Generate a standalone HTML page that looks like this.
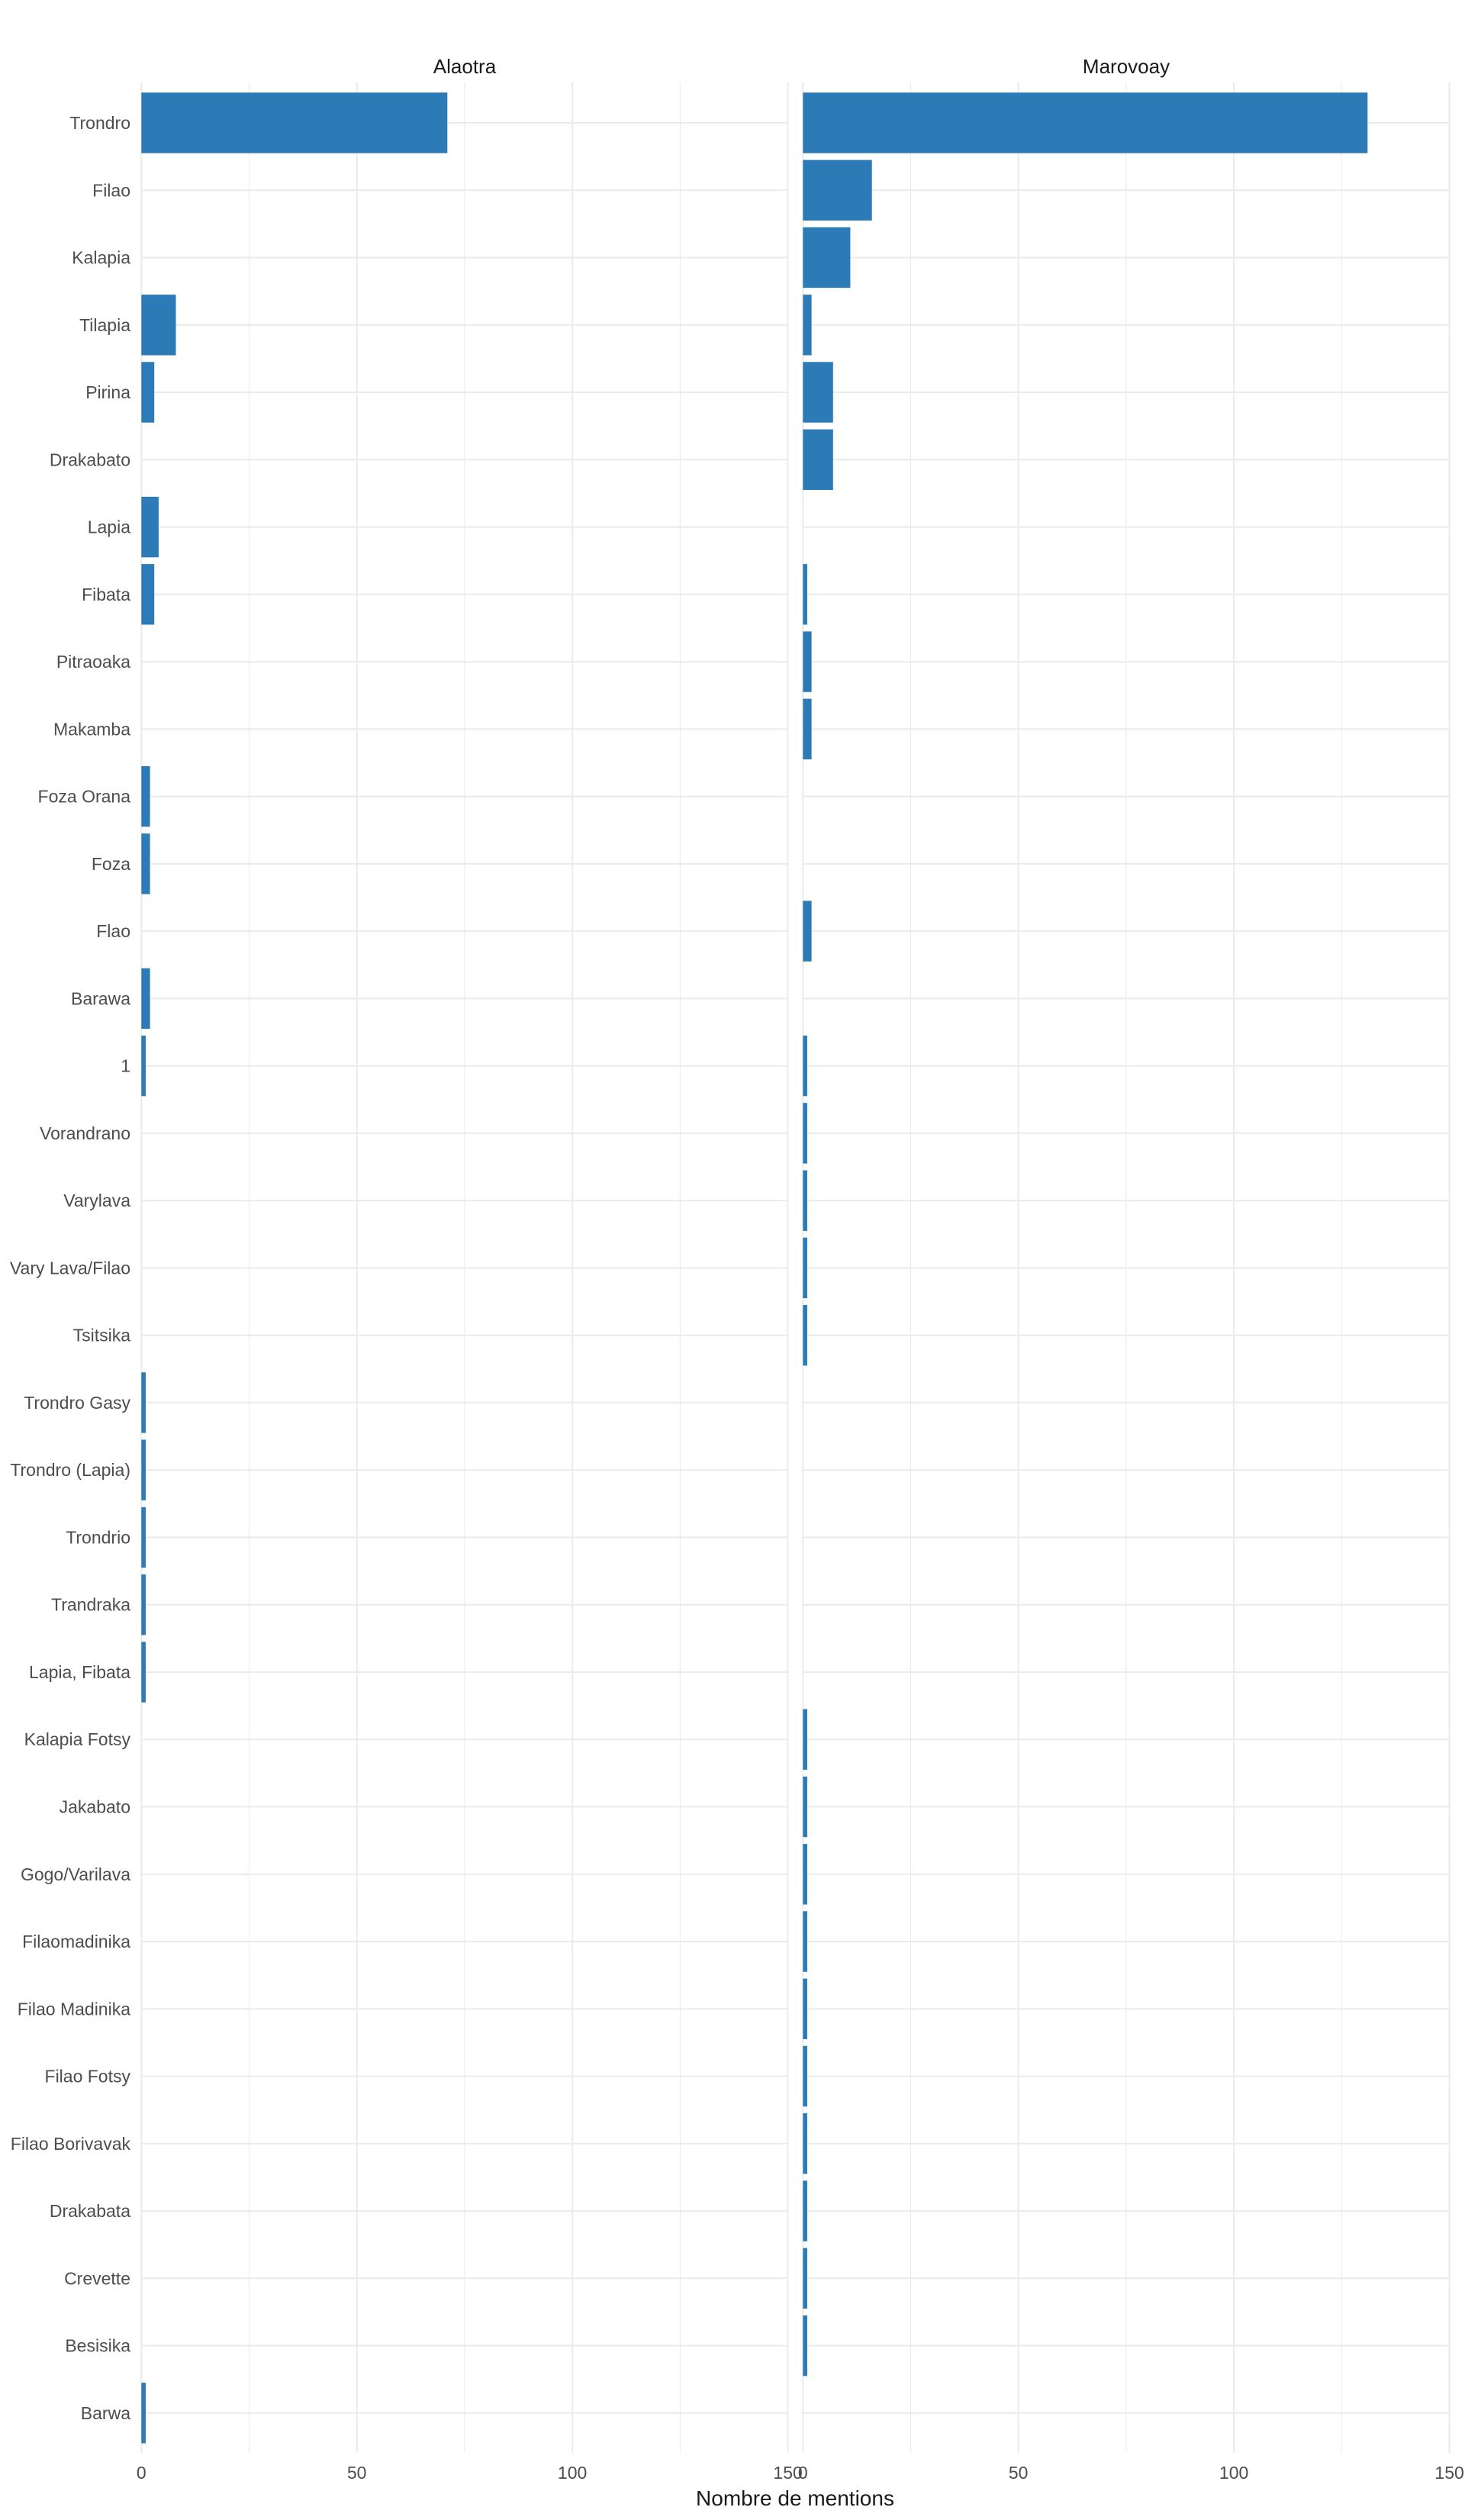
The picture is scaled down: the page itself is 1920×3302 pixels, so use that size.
<!DOCTYPE html>
<html><head><meta charset="utf-8"><style>
html,body{margin:0;padding:0;background:#fff;}
svg{display:block;}
text{font-family:"Liberation Sans",Arial,sans-serif;}
.yl{font-size:23px;fill:#4d4d4d;text-anchor:end;}
.xt{font-size:23px;fill:#4d4d4d;text-anchor:middle;}
.g{stroke:#ebebeb;stroke-width:2;}
.gm{stroke:#ebebeb;stroke-width:1;}
.b{fill:#2c7bb6;}
</style></head><body>
<svg width="1920" height="3302" viewBox="0 0 1920 3302" xmlns="http://www.w3.org/2000/svg">
<rect width="1920" height="3302" fill="#fff"/>
<text x="609" y="96" font-size="26" fill="#1a1a1a" text-anchor="middle">Alaotra</text>
<text x="1476" y="96" font-size="26" fill="#1a1a1a" text-anchor="middle">Marovoay</text>
<g>
<line class="gm" x1="326.5" y1="108" x2="326.5" y2="3214"/><line class="gm" x1="608.9" y1="108" x2="608.9" y2="3214"/><line class="gm" x1="891.3" y1="108" x2="891.3" y2="3214"/>
<line class="g" x1="185.3" y1="108" x2="185.3" y2="3214"/><line class="g" x1="467.7" y1="108" x2="467.7" y2="3214"/><line class="g" x1="750.1" y1="108" x2="750.1" y2="3214"/><line class="g" x1="1032.6" y1="108" x2="1032.6" y2="3214"/>
<line class="gm" x1="1193.5" y1="108" x2="1193.5" y2="3214"/><line class="gm" x1="1475.9" y1="108" x2="1475.9" y2="3214"/><line class="gm" x1="1758.3" y1="108" x2="1758.3" y2="3214"/>
<line class="g" x1="1052.3" y1="108" x2="1052.3" y2="3214"/><line class="g" x1="1334.7" y1="108" x2="1334.7" y2="3214"/><line class="g" x1="1617.1" y1="108" x2="1617.1" y2="3214"/><line class="g" x1="1899.6" y1="108" x2="1899.6" y2="3214"/>
</g>
<g transform="translate(0,161.0)"><line class="g" x1="185" x2="1033"/><line class="g" x1="1052" x2="1900"/><text class="yl" x="171" y="8">Trondro</text><rect class="b" x="185.3" y="-39.7" width="401" height="79.4"/><rect class="b" x="1052.3" y="-39.7" width="740" height="79.4"/></g>
<g transform="translate(0,249.3)"><line class="g" x1="185" x2="1033"/><line class="g" x1="1052" x2="1900"/><text class="yl" x="171" y="8">Filao</text><rect class="b" x="1052.3" y="-39.7" width="90.4" height="79.4"/></g>
<g transform="translate(0,337.5)"><line class="g" x1="185" x2="1033"/><line class="g" x1="1052" x2="1900"/><text class="yl" x="171" y="8">Kalapia</text><rect class="b" x="1052.3" y="-39.7" width="62.1" height="79.4"/></g>
<g transform="translate(0,425.8)"><line class="g" x1="185" x2="1033"/><line class="g" x1="1052" x2="1900"/><text class="yl" x="171" y="8">Tilapia</text><rect class="b" x="185.3" y="-39.7" width="45.2" height="79.4"/><rect class="b" x="1052.3" y="-39.7" width="11.3" height="79.4"/></g>
<g transform="translate(0,514.0)"><line class="g" x1="185" x2="1033"/><line class="g" x1="1052" x2="1900"/><text class="yl" x="171" y="8">Pirina</text><rect class="b" x="185.3" y="-39.7" width="16.9" height="79.4"/><rect class="b" x="1052.3" y="-39.7" width="39.5" height="79.4"/></g>
<g transform="translate(0,602.3)"><line class="g" x1="185" x2="1033"/><line class="g" x1="1052" x2="1900"/><text class="yl" x="171" y="8">Drakabato</text><rect class="b" x="1052.3" y="-39.7" width="39.5" height="79.4"/></g>
<g transform="translate(0,690.6)"><line class="g" x1="185" x2="1033"/><line class="g" x1="1052" x2="1900"/><text class="yl" x="171" y="8">Lapia</text><rect class="b" x="185.3" y="-39.7" width="22.6" height="79.4"/></g>
<g transform="translate(0,778.8)"><line class="g" x1="185" x2="1033"/><line class="g" x1="1052" x2="1900"/><text class="yl" x="171" y="8">Fibata</text><rect class="b" x="185.3" y="-39.7" width="16.9" height="79.4"/><rect class="b" x="1052.3" y="-39.7" width="5.65" height="79.4"/></g>
<g transform="translate(0,867.1)"><line class="g" x1="185" x2="1033"/><line class="g" x1="1052" x2="1900"/><text class="yl" x="171" y="8">Pitraoaka</text><rect class="b" x="1052.3" y="-39.7" width="11.3" height="79.4"/></g>
<g transform="translate(0,955.3)"><line class="g" x1="185" x2="1033"/><line class="g" x1="1052" x2="1900"/><text class="yl" x="171" y="8">Makamba</text><rect class="b" x="1052.3" y="-39.7" width="11.3" height="79.4"/></g>
<g transform="translate(0,1043.6)"><line class="g" x1="185" x2="1033"/><line class="g" x1="1052" x2="1900"/><text class="yl" x="171" y="8">Foza Orana</text><rect class="b" x="185.3" y="-39.7" width="11.3" height="79.4"/></g>
<g transform="translate(0,1131.9)"><line class="g" x1="185" x2="1033"/><line class="g" x1="1052" x2="1900"/><text class="yl" x="171" y="8">Foza</text><rect class="b" x="185.3" y="-39.7" width="11.3" height="79.4"/></g>
<g transform="translate(0,1220.1)"><line class="g" x1="185" x2="1033"/><line class="g" x1="1052" x2="1900"/><text class="yl" x="171" y="8">Flao</text><rect class="b" x="1052.3" y="-39.7" width="11.3" height="79.4"/></g>
<g transform="translate(0,1308.4)"><line class="g" x1="185" x2="1033"/><line class="g" x1="1052" x2="1900"/><text class="yl" x="171" y="8">Barawa</text><rect class="b" x="185.3" y="-39.7" width="11.3" height="79.4"/></g>
<g transform="translate(0,1396.6)"><line class="g" x1="185" x2="1033"/><line class="g" x1="1052" x2="1900"/><text class="yl" x="171" y="8">1</text><rect class="b" x="185.3" y="-39.7" width="5.65" height="79.4"/><rect class="b" x="1052.3" y="-39.7" width="5.65" height="79.4"/></g>
<g transform="translate(0,1484.9)"><line class="g" x1="185" x2="1033"/><line class="g" x1="1052" x2="1900"/><text class="yl" x="171" y="8">Vorandrano</text><rect class="b" x="1052.3" y="-39.7" width="5.65" height="79.4"/></g>
<g transform="translate(0,1573.2)"><line class="g" x1="185" x2="1033"/><line class="g" x1="1052" x2="1900"/><text class="yl" x="171" y="8">Varylava</text><rect class="b" x="1052.3" y="-39.7" width="5.65" height="79.4"/></g>
<g transform="translate(0,1661.4)"><line class="g" x1="185" x2="1033"/><line class="g" x1="1052" x2="1900"/><text class="yl" x="171" y="8">Vary Lava/Filao</text><rect class="b" x="1052.3" y="-39.7" width="5.65" height="79.4"/></g>
<g transform="translate(0,1749.7)"><line class="g" x1="185" x2="1033"/><line class="g" x1="1052" x2="1900"/><text class="yl" x="171" y="8">Tsitsika</text><rect class="b" x="1052.3" y="-39.7" width="5.65" height="79.4"/></g>
<g transform="translate(0,1837.9)"><line class="g" x1="185" x2="1033"/><line class="g" x1="1052" x2="1900"/><text class="yl" x="171" y="8">Trondro Gasy</text><rect class="b" x="185.3" y="-39.7" width="5.65" height="79.4"/></g>
<g transform="translate(0,1926.2)"><line class="g" x1="185" x2="1033"/><line class="g" x1="1052" x2="1900"/><text class="yl" x="171" y="8">Trondro (Lapia)</text><rect class="b" x="185.3" y="-39.7" width="5.65" height="79.4"/></g>
<g transform="translate(0,2014.5)"><line class="g" x1="185" x2="1033"/><line class="g" x1="1052" x2="1900"/><text class="yl" x="171" y="8">Trondrio</text><rect class="b" x="185.3" y="-39.7" width="5.65" height="79.4"/></g>
<g transform="translate(0,2102.7)"><line class="g" x1="185" x2="1033"/><line class="g" x1="1052" x2="1900"/><text class="yl" x="171" y="8">Trandraka</text><rect class="b" x="185.3" y="-39.7" width="5.65" height="79.4"/></g>
<g transform="translate(0,2191.0)"><line class="g" x1="185" x2="1033"/><line class="g" x1="1052" x2="1900"/><text class="yl" x="171" y="8">Lapia, Fibata</text><rect class="b" x="185.3" y="-39.7" width="5.65" height="79.4"/></g>
<g transform="translate(0,2279.2)"><line class="g" x1="185" x2="1033"/><line class="g" x1="1052" x2="1900"/><text class="yl" x="171" y="8">Kalapia Fotsy</text><rect class="b" x="1052.3" y="-39.7" width="5.65" height="79.4"/></g>
<g transform="translate(0,2367.5)"><line class="g" x1="185" x2="1033"/><line class="g" x1="1052" x2="1900"/><text class="yl" x="171" y="8">Jakabato</text><rect class="b" x="1052.3" y="-39.7" width="5.65" height="79.4"/></g>
<g transform="translate(0,2455.8)"><line class="g" x1="185" x2="1033"/><line class="g" x1="1052" x2="1900"/><text class="yl" x="171" y="8">Gogo/Varilava</text><rect class="b" x="1052.3" y="-39.7" width="5.65" height="79.4"/></g>
<g transform="translate(0,2544.0)"><line class="g" x1="185" x2="1033"/><line class="g" x1="1052" x2="1900"/><text class="yl" x="171" y="8">Filaomadinika</text><rect class="b" x="1052.3" y="-39.7" width="5.65" height="79.4"/></g>
<g transform="translate(0,2632.3)"><line class="g" x1="185" x2="1033"/><line class="g" x1="1052" x2="1900"/><text class="yl" x="171" y="8">Filao Madinika</text><rect class="b" x="1052.3" y="-39.7" width="5.65" height="79.4"/></g>
<g transform="translate(0,2720.5)"><line class="g" x1="185" x2="1033"/><line class="g" x1="1052" x2="1900"/><text class="yl" x="171" y="8">Filao Fotsy</text><rect class="b" x="1052.3" y="-39.7" width="5.65" height="79.4"/></g>
<g transform="translate(0,2808.8)"><line class="g" x1="185" x2="1033"/><line class="g" x1="1052" x2="1900"/><text class="yl" x="171" y="8">Filao Borivavak</text><rect class="b" x="1052.3" y="-39.7" width="5.65" height="79.4"/></g>
<g transform="translate(0,2897.1)"><line class="g" x1="185" x2="1033"/><line class="g" x1="1052" x2="1900"/><text class="yl" x="171" y="8">Drakabata</text><rect class="b" x="1052.3" y="-39.7" width="5.65" height="79.4"/></g>
<g transform="translate(0,2985.3)"><line class="g" x1="185" x2="1033"/><line class="g" x1="1052" x2="1900"/><text class="yl" x="171" y="8">Crevette</text><rect class="b" x="1052.3" y="-39.7" width="5.65" height="79.4"/></g>
<g transform="translate(0,3073.6)"><line class="g" x1="185" x2="1033"/><line class="g" x1="1052" x2="1900"/><text class="yl" x="171" y="8">Besisika</text><rect class="b" x="1052.3" y="-39.7" width="5.65" height="79.4"/></g>
<g transform="translate(0,3161.8)"><line class="g" x1="185" x2="1033"/><line class="g" x1="1052" x2="1900"/><text class="yl" x="171" y="8">Barwa</text><rect class="b" x="185.3" y="-39.7" width="5.65" height="79.4"/></g>
<g>
<text class="xt" x="185.3" y="3248">0</text><text class="xt" x="467.7" y="3248">50</text><text class="xt" x="750.1" y="3248">100</text><text class="xt" x="1032.6" y="3248">150</text>
<text class="xt" x="1052.3" y="3248">0</text><text class="xt" x="1334.7" y="3248">50</text><text class="xt" x="1617.1" y="3248">100</text><text class="xt" x="1899.6" y="3248">150</text>
</g>
<text x="1042" y="3283" font-size="28" fill="#1a1a1a" text-anchor="middle">Nombre de mentions</text>
</svg>
</body></html>
